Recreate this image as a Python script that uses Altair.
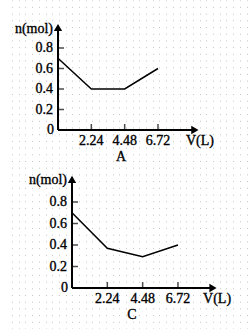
import altair as alt
import pandas as pd

# ---- data ----
v_values = [0, 2.24, 4.48, 6.72]
n_values_A = [0.7, 0.4, 0.4, 0.6]
n_values_C = [0.7, 0.37, 0.29, 0.4]
x_tick_labels = ["2.24", "4.48", "6.72"]
y_tick_values = [0.2, 0.4, 0.6, 0.8]
y_tick_labels = ["0.2", "0.4", "0.6", "0.8"]
panel_names = ["A", "C"]

FONT = "Liberation Serif"
TXT = dict(font=FONT, fontSize=14, color="black", stroke="black", strokeWidth=0.35)


def panel(n_values, name, xrange, yrange, x_end, y_end, cap_x, vl_x):
    xs = alt.Scale(domain=[0, 10], range=xrange)
    ys = alt.Scale(domain=[0, 1], range=yrange)
    X = lambda f="x": alt.X(f"{f}:Q", scale=xs, axis=None)
    Y = lambda f="y": alt.Y(f"{f}:Q", scale=ys, axis=None)

    line_df = pd.DataFrame({"x": v_values, "y": n_values})
    line = alt.Chart(line_df).mark_line(color="black", strokeWidth=1.5).encode(x=X(), y=Y())

    axes_df = pd.DataFrame({"x": [0, 0], "y": [0, 0], "x2": [x_end, 0], "y2": [0, y_end]})
    axes = alt.Chart(axes_df).mark_rule(color="black", strokeWidth=2).encode(
        x=X(), y=Y(), x2="x2:Q", y2="y2:Q")

    arr_x = alt.Chart(pd.DataFrame({"x": [x_end], "y": [0]})).mark_point(
        shape="triangle-right", filled=True, color="black", size=70, opacity=1
    ).encode(x=X(), y=Y())
    arr_y = alt.Chart(pd.DataFrame({"x": [0], "y": [y_end]})).mark_point(
        shape="triangle-up", filled=True, color="black", size=70, opacity=1
    ).encode(x=X(), y=Y())

    xt_df = pd.DataFrame({"x": v_values[1:], "y": [0] * 3, "lab": x_tick_labels})
    xticks = alt.Chart(xt_df).mark_tick(color="black", orient="vertical", size=6,
                                        thickness=1.5, yOffset=-3).encode(x=X(), y=Y())
    xlabs = alt.Chart(xt_df).mark_text(dy=11, **TXT).encode(x=X(), y=Y(), text="lab:N")

    yt_df = pd.DataFrame({"x": [0] * 4, "y": y_tick_values, "lab": y_tick_labels})
    yticks = alt.Chart(yt_df).mark_tick(color="black", orient="horizontal", size=6,
                                        thickness=1.5, xOffset=3).encode(x=X(), y=Y())
    ylabs = alt.Chart(yt_df).mark_text(align="right", dx=-5, **TXT).encode(
        x=X(), y=Y(), text="lab:N")

    zero = alt.Chart(pd.DataFrame({"x": [0], "y": [0], "lab": ["0"]})).mark_text(
        align="right", dx=-4, dy=0, **TXT
    ).encode(x=X(), y=Y(), text="lab:N")

    ny = alt.Chart(pd.DataFrame({"x": [0], "y": [y_end], "lab": ["n(mol)"]})).mark_text(
        align="right", dx=-5, dy=1, **TXT
    ).encode(x=X(), y=Y(), text="lab:N")

    vx = alt.Chart(pd.DataFrame({"x": [vl_x], "y": [0], "lab": ["V(L)"]})).mark_text(
        dy=11, **TXT
    ).encode(x=X(), y=Y(), text="lab:N")

    cap = alt.Chart(pd.DataFrame({"x": [cap_x], "y": [0], "lab": [name]})).mark_text(
        dy=27, **TXT
    ).encode(x=X(), y=Y(), text="lab:N")

    return alt.layer(axes, arr_x, arr_y, xticks, yticks, line, xlabs, ylabs, zero, ny, vx, cap)


# faint dotted background of the scanned page
dot_step = 6.7
bg = alt.Chart(pd.DataFrame({"gx": [0.0], "gy": [0.0]})).mark_point(opacity=0).encode(
    x=alt.X("gx:Q", scale=alt.Scale(domain=[0, 252], range=[0, 252], nice=False),
            axis=alt.Axis(values=[12 + dot_step * i for i in range(36)], grid=True,
                          gridColor="#c4c4c4", gridDash=[1, dot_step - 1], gridWidth=1,
                          domain=False, ticks=False, labels=False, title=None)),
    y=alt.Y("gy:Q", scale=alt.Scale(domain=[0, 329], range=[0, 329], nice=False),
            axis=None),
)

top = panel(n_values_A, panel_names[0], [58, 206.8], [130, 27.5], 9.2, 1.0, 4.23, 9.54)
bot = panel(n_values_C, panel_names[1], [72, 229.7], [288, 180.5], 8.94, 1.01, 3.8, 9.2)

chart = alt.layer(bg, top, bot).resolve_scale(x="independent", y="independent").properties(
    width=252, height=329, autosize=alt.AutoSizeParams(type="none"), padding=0,
    background="white"
).configure_view(stroke=None)

chart.save("out.html", embed_options={"renderer": "svg", "actions": False})
